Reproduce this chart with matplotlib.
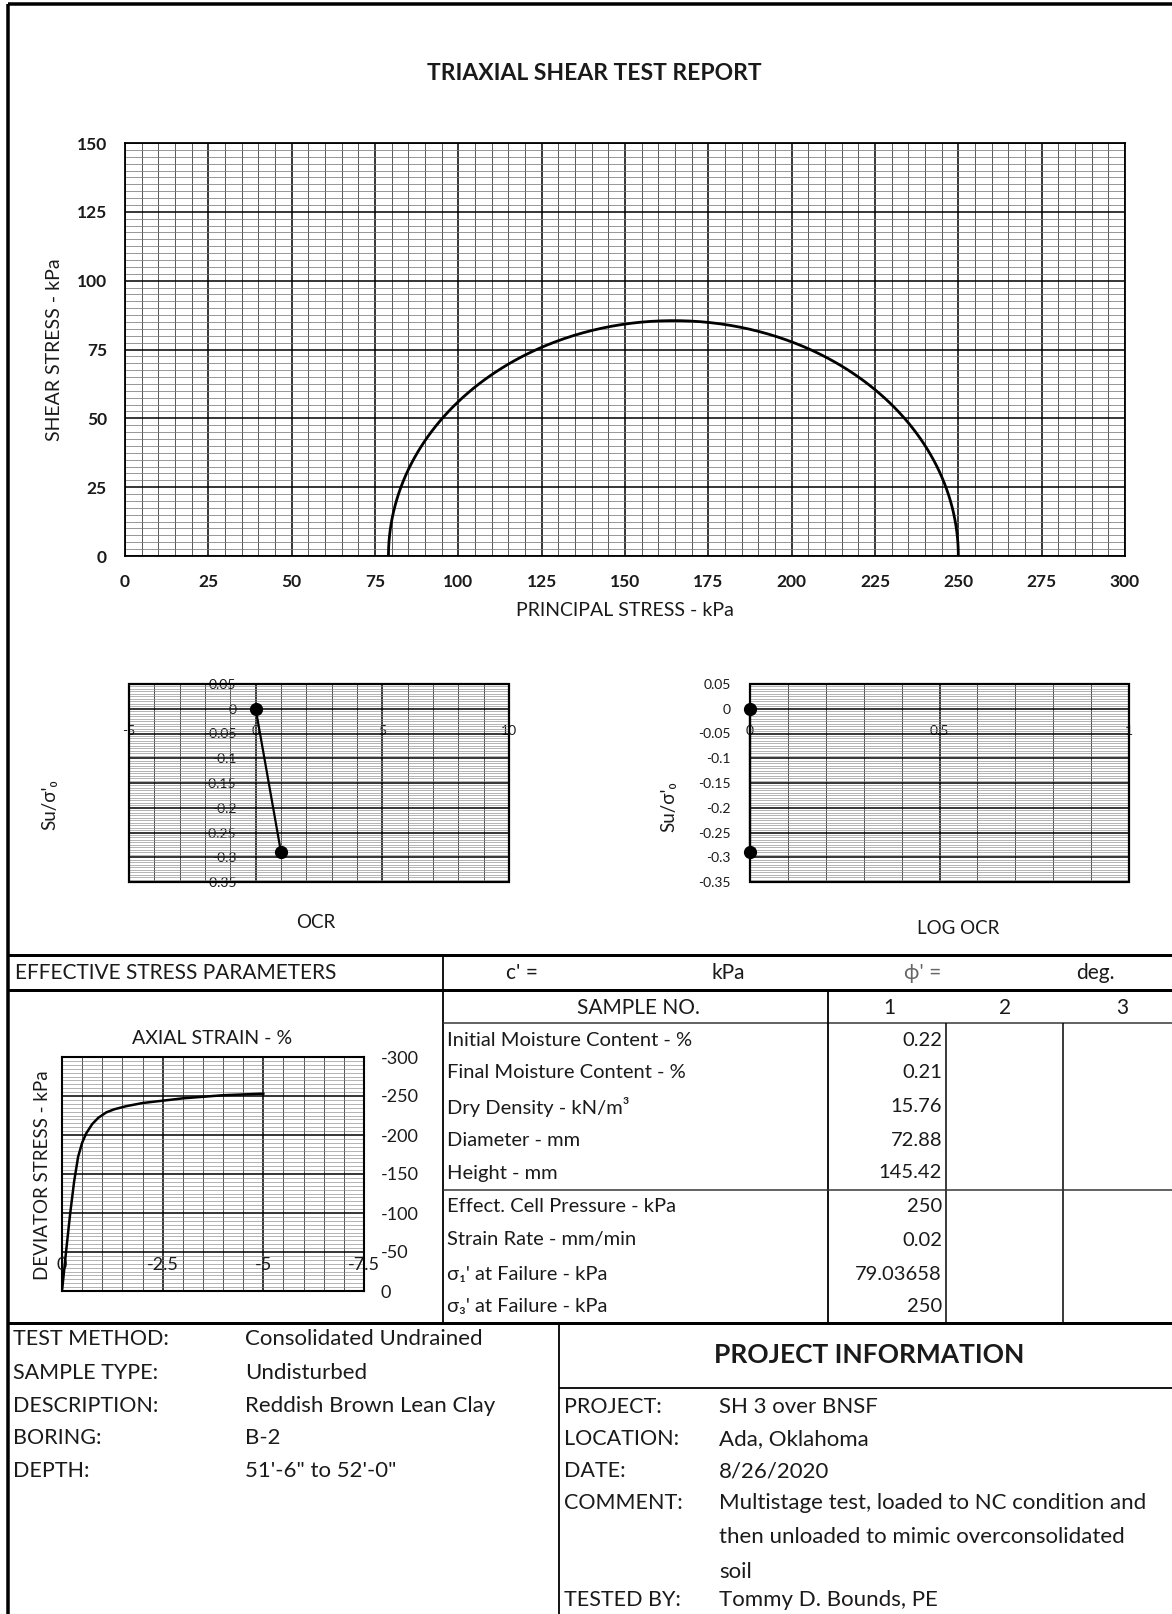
import numpy as np
import matplotlib
matplotlib.use("Agg")
import matplotlib.pyplot as plt
from matplotlib.ticker import MultipleLocator
from matplotlib.patches import Rectangle

plt.rcParams['font.family'] = ['Lato', 'DejaVu Sans']
plt.rcParams['axes.unicode_minus'] = False

# ---------------- data ----------------
sigma1_fail = 79.03658   # kPa
sigma3_fail = 250.0      # kPa

ocr = [0, 1]
su_ratio = [0, -0.29]
log_ocr = [0, 0]

axial_strain = [0, -0.05, -0.1, -0.15, -0.2, -0.3, -0.4, -0.5, -0.6, -0.75, -0.9,
                -1.1, -1.3, -1.6, -2.0, -2.5, -3.0, -3.5, -4.0, -4.5, -5.0]
deviator_stress = [0, -25, -50, -74, -98, -140, -172, -190, -202, -214, -222,
                   -229, -233, -237, -241, -244, -247, -249, -251, -252, -253]

main_xticks = [0, 25, 50, 75, 100, 125, 150, 175, 200, 225, 250, 275, 300]
main_yticks = [0, 25, 50, 75, 100, 125, 150]
ratio_yticks = [0.05, 0, -0.05, -0.1, -0.15, -0.2, -0.25, -0.3, -0.35]
ocr_xticks = [-5, 0, 5, 10]
logocr_xticks = [0, 0.5, 1]
strain_xticks = [0, -2.5, -5, -7.5]
stress_yticks = [0, -50, -100, -150, -200, -250, -300]

sample_rows = ["Initial Moisture Content - %", "Final Moisture Content - %",
               "Dry Density - kN/m³", "Diameter - mm", "Height - mm",
               "Effect. Cell Pressure - kPa", "Strain Rate - mm/min",
               "σ₁' at Failure - kPa", "σ₃' at Failure - kPa"]
sample1_values = ["0.22", "0.21", "15.76", "72.88", "145.42",
                  "250", "0.02", "79.03658", "250"]

test_labels = ["TEST METHOD:", "SAMPLE TYPE:", "DESCRIPTION:", "BORING:", "DEPTH:"]
test_values = ["Consolidated Undrained", "Undisturbed", "Reddish Brown Lean Clay",
               "B-2", "51'-6\" to 52'-0\""]

project_labels = ["PROJECT:", "LOCATION:", "DATE:", "COMMENT:", "", "", "TESTED BY:"]
project_values = ["SH 3 over BNSF", "Ada, Oklahoma", "8/26/2020",
                  "Multistage test, loaded to NC condition and",
                  "then unloaded to mimic overconsolidated", "soil",
                  "Tommy D. Bounds, PE"]

# ---------------- page ----------------
W, H = 1172, 1614
fig = plt.figure(figsize=(W / 100, H / 100), dpi=100)
page = fig.add_axes([0, 0, 1, 1])
page.set_xlim(0, W)
page.set_ylim(H, 0)
page.axis('off')

TXT = '#1a1a1a'


def box(x0, y0, x1, y1):
    return fig.add_axes([x0 / W, 1 - y1 / H, (x1 - x0) / W, (y1 - y0) / H])


def hline(y, x0, x1, px, color='black'):
    page.plot([x0, x1], [y, y], color=color, lw=px * 0.72, solid_capstyle='butt')


def vline(x, y0, y1, px, color='black'):
    page.plot([x, x], [y0, y1], color=color, lw=px * 0.72, solid_capstyle='butt')


def text(x, y, s, size, ha='left', weight='normal', rot=0, color=TXT):
    page.text(x, y, s, fontsize=size, ha=ha, va='center', fontweight=weight,
              rotation=rot, color=color, rotation_mode='anchor')


def fmt(v):
    return f"{round(v, 3) + 0.0:g}"


# frame of the report
hline(4, 8, W, 3.5)
vline(8, 4, H, 3.5)

text(594, 73, "TRIAXIAL SHEAR TEST REPORT", 16.5, ha='center', weight='bold')

# ---------------- Mohr circle chart ----------------
ax = box(125, 143, 1125, 556)
center = (sigma1_fail + sigma3_fail) / 2
radius = (sigma3_fail - sigma1_fail) / 2
theta = np.linspace(0, np.pi, 361)
ax.plot(center + radius * np.cos(theta), radius * np.sin(theta),
        color='black', lw=2.0, zorder=4)
ax.set_xlim(0, 300)
ax.set_ylim(0, 150)
ax.set_xticks(main_xticks)
ax.set_xticklabels([str(v) for v in main_xticks], fontweight='bold', fontsize=12.5)
ax.set_yticks(main_yticks)
ax.set_yticklabels([str(v) for v in main_yticks], fontweight='bold', fontsize=12.5)
ax.xaxis.set_minor_locator(MultipleLocator(5))
ax.yaxis.set_minor_locator(MultipleLocator(2.5))
ax.grid(which='major', color='black', lw=1.1)
ax.grid(which='minor', axis='x', color='#3c3c3c', lw=0.6)
ax.grid(which='minor', axis='y', color='#7a7a7a', lw=0.55)
ax.set_axisbelow(True)
ax.tick_params(which='both', length=0, colors=TXT)
ax.tick_params(axis='x', pad=13)
ax.tick_params(axis='y', pad=13)
for sp in ax.spines.values():
    sp.set_linewidth(1.3)
text(55, 350, "SHEAR STRESS - kPa", 14, ha='center', rot=90)
text(625, 610, "PRINCIPAL STRESS - kPa", 14, ha='center')


# ---------------- Su/sigma'o charts ----------------
def ratio_chart(rect, xs, ys, xlim, xticks, xminor):
    a = box(*rect)
    a.set_xlim(*xlim)
    a.set_ylim(-0.35, 0.05)
    a.set_xticks(xticks)
    a.set_xticklabels([fmt(v) for v in xticks], fontsize=12)
    a.set_yticks(ratio_yticks)
    a.set_yticklabels([fmt(v) for v in ratio_yticks], fontsize=12)
    a.xaxis.set_minor_locator(MultipleLocator(xminor))
    a.yaxis.set_minor_locator(MultipleLocator(0.005))
    a.grid(which='major', color='black', lw=1.1)
    a.grid(which='minor', axis='x', color='#505050', lw=0.7)
    a.grid(which='minor', axis='y', color='#8a8a8a', lw=0.45)
    a.set_axisbelow(True)
    a.spines['left'].set_position(('data', 0))
    a.spines['bottom'].set_position(('data', 0))
    for sp in a.spines.values():
        sp.set_visible(False)
    a.add_patch(Rectangle((0, 0), 1, 1, transform=a.transAxes, fill=False,
                          lw=1.6, ec='black', clip_on=False, zorder=5))
    a.tick_params(which='both', length=0, colors=TXT)
    a.tick_params(axis='y', pad=14)
    a.tick_params(axis='x', pad=12)
    a.plot(xs, ys, color='black', lw=1.6, marker='o', ms=8.5, clip_on=False, zorder=6)
    return a


ratio_chart((129, 684, 509, 882), ocr, su_ratio, (-5, 10), ocr_xticks, 1)
ratio_chart((750, 684, 1129, 882), log_ocr, su_ratio, (0, 1), logocr_xticks, 0.1)
text(50, 805, "Su/σ'₀", 13.5, ha='center', rot=90)
text(669, 807, "Su/σ'₀", 13.5, ha='center', rot=90)
text(316, 923, "OCR", 13.5, ha='center')
text(958, 928, "LOG OCR", 13.5, ha='center')

# ---------------- table frame ----------------
L, B = 955, 1323
hline(L, 8, W, 3)
hline(990, 8, W, 3)
vline(443, L, B, 1.8)
hline(1023, 443, W, 1.5, '#333333')
vline(828, 990, B, 1.8)
vline(946, 1023, B, 1.5)
vline(1063, 1023, B, 1.5)
hline(1190, 443, W, 1.5, '#333333')
hline(B, 8, W, 3)
vline(559, B, H, 1.8)
hline(1388, 559, W, 1.8)

text(15, 973, "EFFECTIVE STRESS PARAMETERS", 15)
text(522, 973, "c' =", 15, ha='center')
text(728, 973, "kPa", 15, ha='center')
text(923, 973, "ϕ' =", 15, ha='center', color='#666666')
text(1095, 973, "deg.", 15, ha='center')
text(638, 1008, "SAMPLE NO.", 15, ha='center')
for xc, lab in zip([889, 1005, 1122], ["1", "2", "3"]):
    text(xc, 1008, lab, 15, ha='center')

row_y = [1040, 1073, 1107, 1140, 1173, 1207, 1240, 1274, 1307]
for yc, lab, val in zip(row_y, sample_rows, sample1_values):
    text(447, yc, lab, 14.5)
    text(942, yc, val, 14.5, ha='right')

# ---------------- stress-strain chart ----------------
s = box(62, 1057, 364, 1291)
s.plot(axial_strain, deviator_stress, color='black', lw=1.8, zorder=4)
s.set_xlim(0, -7.5)
s.set_ylim(0, -300)
s.set_xticks(strain_xticks)
s.set_xticklabels([])
s.set_yticks(stress_yticks)
s.set_yticklabels([fmt(v) for v in stress_yticks], fontsize=13)
s.yaxis.tick_right()
s.xaxis.set_minor_locator(MultipleLocator(0.5))
s.yaxis.set_minor_locator(MultipleLocator(5))
s.grid(which='major', color='black', lw=1.1)
s.grid(which='minor', axis='x', color='#505050', lw=0.7)
s.grid(which='minor', axis='y', color='#8a8a8a', lw=0.45)
s.set_axisbelow(True)
s.tick_params(which='both', length=0, colors=TXT)
s.tick_params(axis='y', pad=12)
for sp in s.spines.values():
    sp.set_linewidth(1.5)
for v in strain_xticks:
    s.annotate(fmt(v), xy=(v, 0), xycoords=('data', 'axes fraction'),
               xytext=(0, 26), textcoords='offset pixels', ha='center',
               va='center', fontsize=13, color=TXT, annotation_clip=False)
text(212, 1039, "AXIAL STRAIN - %", 14, ha='center')
text(43, 1175, "DEVIATOR STRESS - kPa", 13.5, ha='center', rot=90)

# ---------------- test / project information ----------------
for yc, lab, val in zip([1339, 1373, 1406, 1438, 1471], test_labels, test_values):
    text(13, yc, lab, 15.5)
    text(245, yc, val, 16)

text(869, 1355, "PROJECT INFORMATION", 19, ha='center', weight='bold')
for yc, lab, val in zip([1407, 1439, 1471, 1503, 1537, 1572, 1600],
                        project_labels, project_values):
    if lab:
        text(564, yc, lab, 15.5)
    text(719, yc, val, 16)

fig.savefig("out.png", dpi=100)
